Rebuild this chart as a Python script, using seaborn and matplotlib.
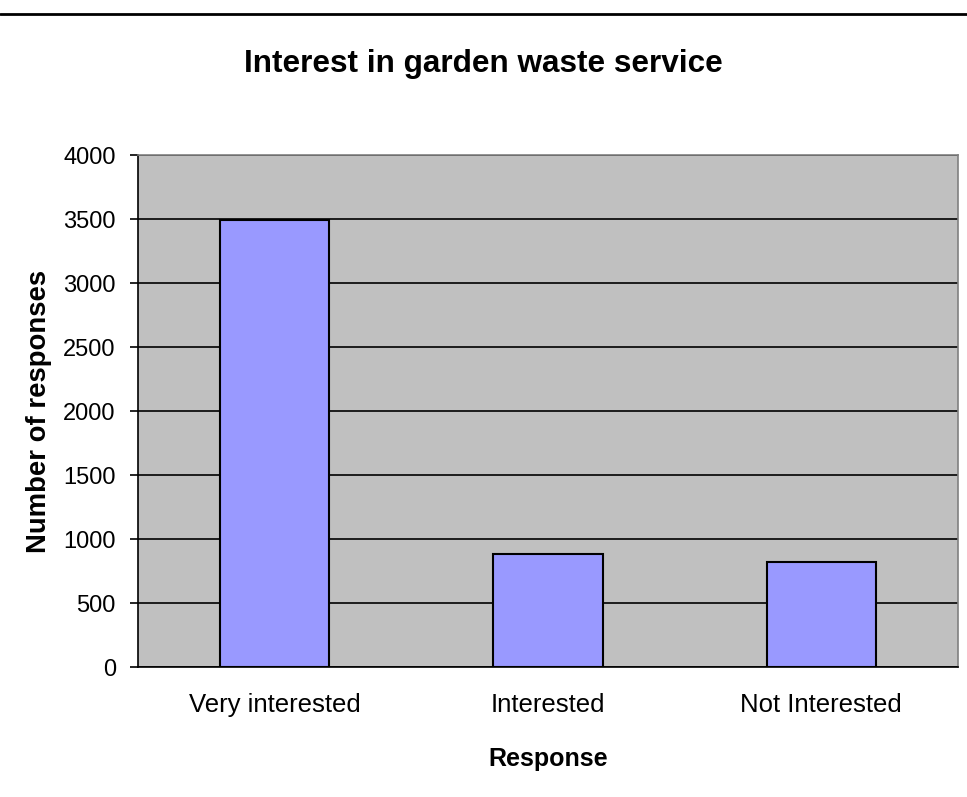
import matplotlib
matplotlib.use("Agg")
import matplotlib.pyplot as plt
import seaborn as sns
import pandas as pd
from matplotlib.lines import Line2D
from matplotlib.ticker import FixedLocator

categories = ["Very interested", "Interested", "Not Interested"]
responses = [3495, 886, 822]
y_ticks = [0, 500, 1000, 1500, 2000, 2500, 3000, 3500, 4000]

sns.set_theme(style="white")
plt.rcParams['font.family'] = ['Liberation Sans', 'DejaVu Sans']
plt.rcParams['text.color'] = 'black'
plt.rcParams['axes.labelcolor'] = 'black'
plt.rcParams['xtick.color'] = 'black'
plt.rcParams['ytick.color'] = 'black'

df = pd.DataFrame({"Response": categories, "Count": responses})

fig = plt.figure(figsize=(9.67, 7.97), dpi=100)
ax = fig.add_axes([138/967, 1 - 667/797, (958-138)/967, (667-155)/797])
ax.set_facecolor("#C0C0C0")

sns.barplot(data=df, x="Response", y="Count", color="#9999FF", width=0.4,
            edgecolor="black", linewidth=1.5, saturation=1, ax=ax, zorder=3)

ax.set_ylim(0, 4000)
ax.set_xlim(-0.5, 2.5)
ax.set_yticks(y_ticks)
ax.set_yticklabels([str(v) for v in y_ticks], fontsize=17)
ax.yaxis.grid(True, color="black", linewidth=1.2, zorder=1)
ax.set_axisbelow(True)

ax.tick_params(axis="x", which="major", length=0, labelsize=18.5, pad=19, labelcolor="black")
ax.xaxis.set_minor_locator(FixedLocator([-0.5, 0.5, 1.5, 2.5]))
ax.tick_params(axis="x", which="minor", length=7, width=1.2, color="black", direction="out")
ax.tick_params(axis="y", which="major", length=6, width=1.2, color="black", direction="out",
               left=True, pad=10, labelcolor="black")

for side in ["top", "right"]:
    ax.spines[side].set_color("#808080")
    ax.spines[side].set_linewidth(1.2)
for side in ["left", "bottom"]:
    ax.spines[side].set_color("black")
    ax.spines[side].set_linewidth(1.2)

ax.set_xlabel("Response", fontsize=18, fontweight="bold", labelpad=21, color="black")
ax.set_ylabel("Number of responses", fontsize=19.8, fontweight="bold", labelpad=8, color="black")

fig.text(0.5, 1 - 72/797, "Interest in garden waste service", ha="center", va="baseline",
         fontsize=22.7, fontweight="bold", color="black")

fig.add_artist(Line2D([0, 1], [1 - 14/797, 1 - 14/797], color="black", linewidth=2,
                      transform=fig.transFigure))

fig.savefig("out.png", dpi=100, facecolor="white")
